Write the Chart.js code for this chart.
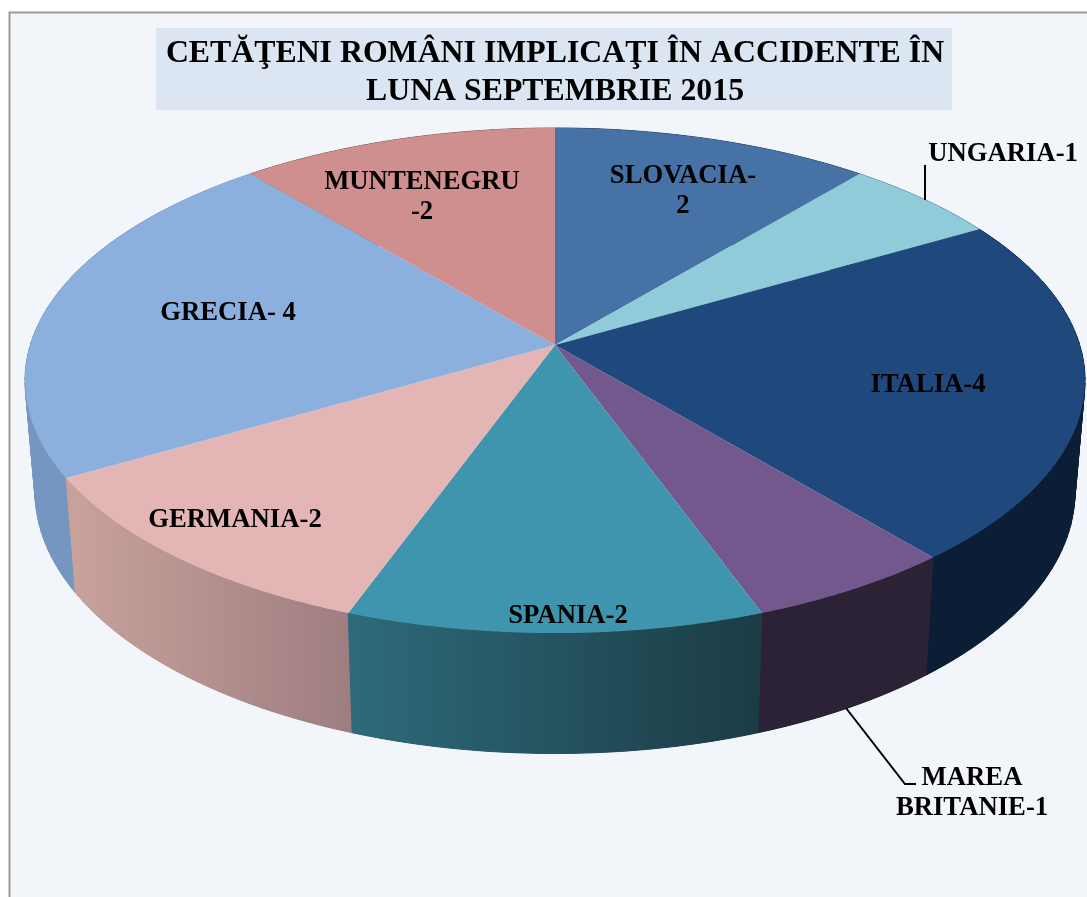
<!DOCTYPE html>
<html>
<head>
<meta charset="utf-8">
<title>Cetăţeni români implicaţi în accidente</title>
<script src="https://cdn.jsdelivr.net/npm/chart.js@4/dist/chart.umd.js"></script>
<style>
  html, body { margin: 0; padding: 0; background: #fff; overflow: hidden; }
  canvas { display: block; }
</style>
</head>
<body>
<canvas id="accidentChart" width="1087" height="897"></canvas>
<script>
// Data
const categories = ['SLOVACIA', 'UNGARIA', 'ITALIA', 'MAREA BRITANIE', 'SPANIA', 'GERMANIA', 'GRECIA', 'MUNTENEGRU'];
const accidents = [2, 1, 4, 1, 2, 2, 4, 2];
const sliceLabels = [['SLOVACIA-', '2'], ['UNGARIA-1'], ['ITALIA-4'], ['MAREA', 'BRITANIE-1'], ['SPANIA-2'], ['GERMANIA-2'], ['GRECIA- 4'], ['MUNTENEGRU', '-2']];
const titleLines = ['CETĂŢENI ROMÂNI IMPLICAŢI ÎN ACCIDENTE ÎN', 'LUNA SEPTEMBRIE 2015'];

// Styles
const topColors = ['#4672a6', '#8fcbd9', '#1f497d', '#72588d', '#4095ae', '#e3b5b4', '#8cb0de', '#cf8f8e'];
const wallLeft = ['#2c4768', '#5a7f88', '#0b1e36', '#2c2236', '#2e6a7a', '#c8a19b', '#7496c0', '#8a6060'];
const wallRight = ['#2c4768', '#5a7f88', '#0b1e36', '#2c2236', '#1b3c45', '#9e7d80', '#7b9dc8', '#8a6060'];
const labelSpots = [[683, 176], [1003, 154], [928, 385], [972, 778], [568, 616], [235, 520], [228, 313], [422, 182]];
const leaderLines = [[[925, 200], [925, 165]], [[846, 708], [905, 784], [916, 784]]];

// Perspective of the disc: top rim and bottom rim ellipses, pie centre pushed up by tilt
const topRim = { rx: 530, cy: 380.5, ry: 252.5 };
const bottomRim = { rx: 520, cy: 491.5, ry: 262 };
const tilt = 0.1406;

function project(arc, angle, rim) {
  const u = Math.cos(angle), v = -Math.sin(angle);
  const d = 1 + tilt * v;
  return {
    x: arc.x + rim.rx * u * Math.sqrt(1 - tilt * tilt) / d,
    y: rim.cy - rim.ry * (v + tilt) / d
  };
}

function traceRim(ctx, arc, from, to, rim) {
  const steps = 60;
  for (let i = 0; i <= steps; i++) {
    const p = project(arc, from + (to - from) * i / steps, rim);
    ctx.lineTo(p.x, p.y);
  }
}

// The library still draws each slice, only through the projection above
Chart.ArcElement.prototype.draw = function (ctx) {
  const apexY = topRim.cy - topRim.ry * tilt;
  ctx.save();
  ctx.beginPath();
  ctx.moveTo(this.x, apexY);
  traceRim(ctx, this, this.startAngle, this.endAngle, topRim);
  ctx.closePath();
  ctx.fillStyle = this.options.backgroundColor;
  ctx.fill();
  ctx.restore();
};

const scenePlugin = {
  id: 'scene',
  beforeDraw(chart) {
    const ctx = chart.ctx;
    ctx.save();
    ctx.fillStyle = '#ffffff';
    ctx.fillRect(0, 0, chart.width, chart.height);
    ctx.fillStyle = '#f2f6fb';
    ctx.strokeStyle = '#9a9a9a';
    ctx.lineWidth = 2;
    ctx.fillRect(9, 12, chart.width, chart.height);
    ctx.strokeRect(9.5, 12.5, chart.width + 20, chart.height + 20);
    ctx.fillStyle = '#dce6f2';
    ctx.fillRect(156, 28, 796, 82);
    ctx.restore();
  },
  beforeDatasetsDraw(chart) {
    const ctx = chart.ctx;
    const arcs = chart.getDatasetMeta(0).data.map((arc, i) => ({ arc, i }));
    // back walls first, front walls last
    arcs.sort((a, b) => Math.sin((a.arc.startAngle + a.arc.endAngle) / 2) - Math.sin((b.arc.startAngle + b.arc.endAngle) / 2));
    arcs.forEach(({ arc, i }) => {
      const a = project(arc, arc.startAngle, bottomRim);
      const b = project(arc, arc.endAngle, bottomRim);
      const grad = ctx.createLinearGradient(Math.min(a.x, b.x), 0, Math.max(a.x, b.x), 0);
      grad.addColorStop(0, wallLeft[i]);
      grad.addColorStop(1, wallRight[i]);
      ctx.fillStyle = grad;
      ctx.strokeStyle = grad;
      ctx.lineWidth = 1;
      // small quads from rim to rim, so the wall also fills the tangent at the far left and right
      const steps = 60;
      for (let k = 0; k < steps; k++) {
        const from = arc.startAngle + (arc.endAngle - arc.startAngle) * k / steps;
        const to = arc.startAngle + (arc.endAngle - arc.startAngle) * (k + 1) / steps;
        const p1 = project(arc, from, topRim), p2 = project(arc, to, topRim);
        const p3 = project(arc, to, bottomRim), p4 = project(arc, from, bottomRim);
        ctx.beginPath();
        ctx.moveTo(p1.x, p1.y);
        ctx.lineTo(p2.x, p2.y);
        ctx.lineTo(p3.x, p3.y);
        ctx.lineTo(p4.x, p4.y);
        ctx.closePath();
        ctx.fill();
        ctx.stroke();
      }
      // whole wall once more on top, this hides the seams between the quads
      ctx.beginPath();
      traceRim(ctx, arc, arc.startAngle, arc.endAngle, topRim);
      traceRim(ctx, arc, arc.endAngle, arc.startAngle, bottomRim);
      ctx.closePath();
      ctx.fill();
    });
  },
  afterDatasetsDraw(chart) {
    const ctx = chart.ctx;
    ctx.save();
    ctx.strokeStyle = '#000';
    ctx.lineWidth = 2;
    leaderLines.forEach(points => {
      ctx.beginPath();
      points.forEach(p => ctx.lineTo(p[0], p[1]));
      ctx.stroke();
    });
    ctx.fillStyle = '#000';
    ctx.font = 'bold 26.7px "Liberation Serif"';
    ctx.textAlign = 'center';
    ctx.textBaseline = 'middle';
    sliceLabels.forEach((lines, i) => {
      lines.forEach((line, j) => {
        ctx.fillText(line, labelSpots[i][0], labelSpots[i][1] + j * 30.5);
      });
    });
    ctx.restore();
  }
};

new Chart(document.getElementById('accidentChart').getContext('2d'), {
  type: 'pie',
  data: {
    labels: categories,
    datasets: [{ data: accidents, backgroundColor: topColors, borderWidth: 0 }]
  },
  options: {
    responsive: false,
    animation: false,
    events: [],
    layout: { padding: { left: 23, right: 0, top: 0, bottom: 0 } },
    plugins: {
      legend: { display: false },
      tooltip: { enabled: false },
      title: {
        display: true,
        text: titleLines,
        color: '#000',
        font: { family: '"Liberation Serif"', size: 31.8, weight: 'bold', lineHeight: 1.2 },
        padding: { top: 35, bottom: 10 }
      }
    }
  },
  plugins: [scenePlugin]
});
</script>
</body>
</html>
